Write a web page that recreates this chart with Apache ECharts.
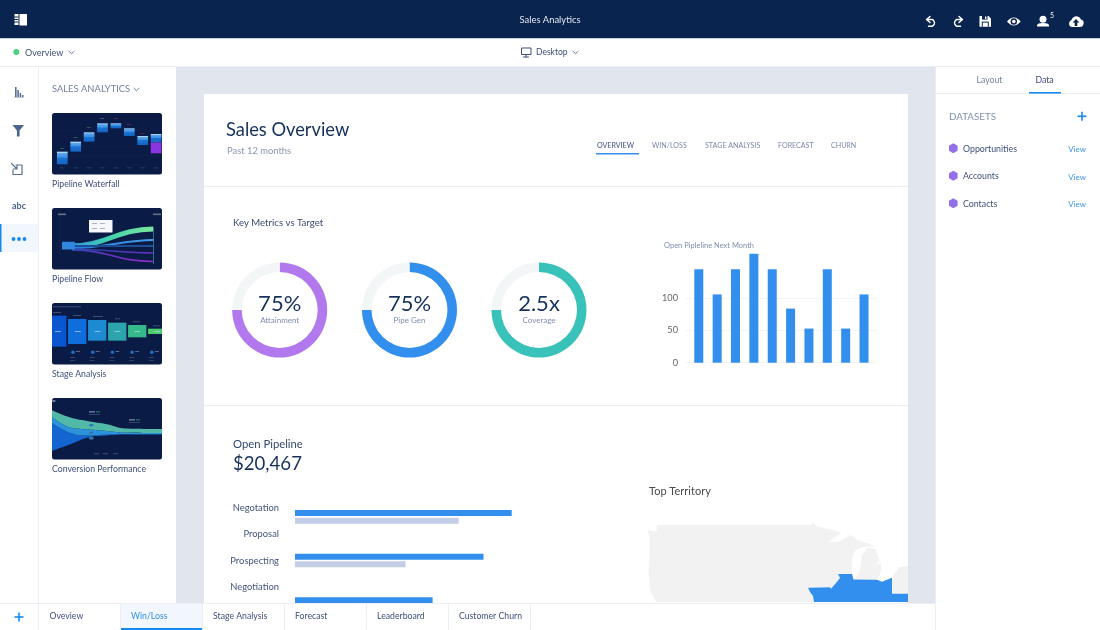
<!DOCTYPE html>
<html><head><meta charset="utf-8"><title>Sales Analytics</title>
<style>html,body{margin:0;padding:0;background:#fff}#c{width:1100px;height:630px}</style>
<script src="https://cdn.jsdelivr.net/npm/echarts@6/dist/echarts.min.js"></script>
</head><body><div id="c"></div>
<script>
// ---- chart data ----
const donutNames = ['Attainment','Pipe Gen','Coverage'];
const donutTexts = ['75%','75%','2.5x'];
const donutDone = [75,75,75];
const donutRest = [25,25,25];
const nextMonthValues = [145,106,145,169,145,84,53,145,53,106];
const nextMonthTicks = [0,50,100];
const stageLabels = ['Negotation','Proposal','Prospecting','Negotiation',''];
const stageBands = ['A','B','C'];
const openBlue = [100,87,63.5];
const openLight = [75.5,51,40];
// territory outlines (map data)
const landMain = [[647.3,530],[656.7,531],[656.7,525],[811.7,525],[812.3,522.4],[818,526.7],[830,529.3],[841.7,532.7],[828.3,541.7],[838,542],[850,535],[858,540],[875,546],[868,546.6],[863,547],[855,550.7],[852.3,556.7],[851.7,566.7],[852,574],[838,574],[840,578],[836,583],[831,588.7],[830,587.3],[808,587.7],[810,592],[813,596],[814,602],[656,602],[650,590],[648.5,570],[650,545],[650,538]];
const landMitten = [[853.5,579.6],[859,574],[860.7,565],[861.7,555],[868.3,547.5],[875,549.3],[880,560],[875,565],[881,563],[881.7,570],[878.3,578],[877,579.8]];
const landEast = [[892,577.7],[900,566.7],[908,566],[908,593.8],[892,593.8]];
const territory = [[808,587.7],[830,587.3],[831,588.7],[836,583],[840,578],[838,574],[852,574],[853.5,579.6],[877,579.8],[882,581.7],[892,577.7],[892,593.8],[908,593.8],[908,602],[814,602],[813,596],[810,592]];
// thumbnail data
const wfCats = ['a','b','c','d','e','f','g','h'];
const wfBase = [0,38,68,96,108,85,58,33];
const wfBlue = [38,30,28,27,15,23,27,25];
const wfPurple = [0,0,0,0,0,0,0,33];
const stageCats = ['s1','s2','s3','s4','s5','s6'];
const stageBase = [38,48,51,59,66,77];
const stageSize = [93,75,62,54,37,16];
const stageColors = ['#0a55d0','#0f6edb','#1d8bd2','#2ba4ab','#36b98a','#4ccc6a'];
const streamCats = ['1','2','3','4','5','6','7'];
const streamBase = [26,46,67,72,75,75,75.5];
const streamDark = [84,34,5,3,2,1,0.5];
const streamMid = [18,16,18,11,4,4,4];
const streamTeal = [20,30,25,20,12,12,12];
// ---- tabs / lists ----
const topTabs = ['OVERVIEW','WIN/LOSS','STAGE ANALYSIS','FORECAST','CHURN'];
const bottomTabs = ['Oveview','Win/Loss','Stage Analysis','Forecast','Leaderboard','Customer Churn'];
const datasets = ['Opportunities','Accounts','Contacts'];
const thumbTitles = ['Pipeline Waterfall','Pipeline Flow','Stage Analysis','Conversion Performance'];

const FF = 'Lato';
const NAVY='#16325c', SLATE='#3e4f78', MUTED='#7f8eae', BLUE='#338fed', LINK='#1589ee', LINE='#eceef4';
const g = [];
let pathCount=0;
const R=(x,y,w,h,fill,z=0,r=0)=>g.push({type:'rect',silent:true,z,shape:{x,y,width:w,height:h,r},style:{fill}});
const T=(x,y,text,size,fill,align='left',weight='normal',z=0)=>g.push({type:'text',silent:true,z,x,y:y+.7,style:{text,fontSize:size,fontFamily:FF,fontWeight:weight,fill,align,verticalAlign:'middle'}});
const P=(d,opt,z=0)=>{const name='iconPath'+(pathCount++);echarts.graphic.registerShape(name,echarts.graphic.extendPath(d,{}));g.push({type:name,silent:true,z,style:opt});};
const C=(cx,cy,r,fill,z=0)=>g.push({type:'circle',silent:true,z,shape:{cx,cy,r},style:{fill}});
const S=(d,color,w=1.4,z=0)=>P(d,{fill:'none',stroke:color,lineWidth:w,lineCap:'round',lineJoin:'round'},z);
const Poly=(pts,fill,z=0)=>g.push({type:'polygon',silent:true,z,shape:{points:pts},style:{fill}});

// page
R(176,67,759,536,'#e0e5ee');
R(204,94,704,509,'#ffffff');
R(204,186,704,1,LINE); R(204,405,704,1,LINE);
// top bar
R(0,0,1100,38,'#0a2450'); R(0,38,1100,1,'#c9cfdc');
R(14.5,14,4,11,'#fff'); R(19.5,14,7.5,11.5,'#fff');
[16.5,19,21.5].forEach(y=>R(14,y,4.5,1,'#0a2450'));
T(550,19,'Sales Analytics',9.4,'#e4e9f2','center');
const W='#ffffff';
S('M926.5 19.5 L930 16.5 M926.5 19.5 L930 22.5 M926.5 19.5 H932 A3.7 3.6 0 0 1 932 26.3 H928.5',W);
S('M962.5 19.5 L959 16.5 M962.5 19.5 L959 22.5 M962.5 19.5 H957 A3.7 3.6 0 0 0 957 26.3 H960.5',W);
P('M979.5 16 H988.5 L991 18.5 V26.7 H979.5 Z',{fill:W});
R(982,16,5.5,3.6,'#0a2450'); R(985,16.6,1.4,2.4,W); R(981.8,21.6,7,5.1,'#0a2450'); R(982.8,22.6,5,4.1,W);
P('M1007 21.5 Q1013.8 13.5 1020.7 21.5 Q1013.8 29.5 1007 21.5 Z',{fill:W});
C(1013.8,21.5,3.2,'#0a2450'); C(1013.8,21.5,1.8,W);
C(1043,19.2,3.5,W); P('M1037 26.5 V25.2 Q1037.5 23 1043 23 Q1048.5 23 1049 25.2 V26.5 Z',{fill:W});
T(1050,15.5,'5',7,W);
P('M1072.5 27 A3.6 3.6 0 0 1 1071.5 20 A5 5 0 0 1 1081 19.6 A3.8 3.8 0 0 1 1080 27 Z',{fill:W});
P('M1076 19 L1079.5 22.5 H1077.3 V26 H1074.7 V22.5 H1072.5 Z',{fill:'#0a2450'});
// sub bar
R(0,66,1100,1,LINE);
C(16.3,52,3,'#4bd27f'); T(25,52,'Overview',9,SLATE);
const chev=(x,y)=>S(`M${x-2.5} ${y-1.2} L${x} ${y+1.2} L${x+2.5} ${y-1.2}`,'#6d7c9c',1);
chev(71.5,52.5);
g.push({type:'rect',silent:true,shape:{x:521.5,y:48,width:9.5,height:6.5},style:{fill:'none',stroke:SLATE,lineWidth:1}});
S('M526 55 V57 M523.5 57 H528.5',SLATE,1);
T(536,52,'Desktop',8.5,SLATE); chev(575.5,52.5);
// left rail
R(38,67,1,536,LINE);
const IC='#5c7098';
R(15,87,1.6,10,IC); R(17.3,90,1.6,7,IC); R(19.6,93,1.6,4,IC); R(21.9,95,1.6,2,IC); R(14,97,10,.7,'#a9b5cc');
Poly([[12.5,125],[24,125],[19.6,130.6],[19.6,136.5],[16.9,136.5],[16.9,130.6]],'#4e648e');
S('M16 165 H22 V174.5 H13 V170 M11.5 163.5 L17 169 M17 165.5 V169 H13.5',IC,1.2);
T(19,205.5,'abc',9,'#4e648e','center','bold');
R(0,224,38,28,'#f1f7fc'); R(0,224,1.5,28,LINK);
[13.5,19,24.5].forEach(x=>C(x,239,1.9,LINK));
// thumbs panel
T(52,88.5,'SALES ANALYTICS',9.4,'#74839f'); chev(136.5,89.5);
[113,208,303,398].forEach((y,i)=>{ R(52,y,110,61.5,'#0a1b45',0,2.5); T(52,y+70.5,thumbTitles[i],8.7,SLATE); });
// thumb 1 tick marks
wfCats.forEach((c,i)=>{ R(60+i*13.4,167.5,4.5,.8,'#36456c',4); R(60+i*13.4,[151,140,130,121,121,127,136,144][i]-3,4,.8,i<3?'#2f6a58':(i<7&&i>3?'#6a2e48':'#5d6788'),4); });
[130,146,155].forEach(y=>R(54,y,106,.5,'#10224a',1));
// thumb 2: flow lines
const grad=(a,b,c)=>new echarts.graphic.LinearGradient(0,0,1,0,[{offset:0,color:a},{offset:.45,color:b},{offset:1,color:c}]);
const flow=(x1,y1,cx1,cx2,x2,y2,w,col)=>g.push({type:'bezierCurve',silent:true,z:3,shape:{x1,y1,cpx1:cx1,cpy1:y1,cpx2:cx2,cpy2:y2,x2,y2},style:{fill:'none',stroke:col,lineWidth:w}});
flow(70,246,105,118,153,229,5,grad('#2f8fe0','#3fd0ae','#7ee89a'));
flow(72,248,105,125,153,240,2,grad('#2a7fdc','#2e8be0','#4b9cec'));
flow(72,246,105,125,153,246,1.8,grad('#1a4f9c','#1c4a8e','#1f4f96'));
flow(72,249,100,125,153,253,1.4,grad('#254aa8','#3f3bb0','#6a2fc0'));
flow(72,250,110,115,153,261.5,1.7,grad('#2a4fb0','#6a2fc0','#9a2bc8'));
R(62,241.7,13,7.7,'#2f86dc',4,.5);
R(153,227,1,37,'#2e6f8a',4);
R(89,220,23.5,12.5,'#f6f7fa',4);
[[92,223],[100,223],[92,228],[100,228]].forEach(p=>R(p[0],p[1],5,.8,'#9aa3b6',5));
S('M60 215 H153',"#10254e",.5,2); S('M60 215 V255',"#14305c",.6,2);
R(58,213.5,8,1.6,'#66718f',4); R(153,213.5,8,1.6,'#66718f',4);
// thumb 3 details + edge masks
[0,1,2,3,4].forEach(i=>{ C(73+i*19.7,352.3,1.8,'#1872c6',4); R(76+i*19.7,351.2,4,.7,'#7c89a5',4); R(70+i*19.7,357,5,.6,'#55627f',4); R(70+i*19.7,360,5,.6,'#4a5775',4); });
[0,1,2,3,4,5].forEach(i=>R(55+i*19.8,331,6,.7,'#b9d2ea',4));
[[53,306.5,28],[53,312,8],[73,315,8],[93,316,10],[115,318.5,5],[133,321.5,7],[153,325.5,7]].forEach(p=>R(p[0],p[1],p[2],.7,'#55668c',4));
R(46,303,6,62,'#ffffff',5); R(162,303,7,62,'#ffffff',5);
// thumb 4 details
R(52,400.5,3.5,1,'#c9d2e2',5);
[[89,411.5],[129,419.5]].forEach(p=>{ R(p[0],p[1],6,.8,'#b9c6da',5); R(p[0]+7,p[1],4,.8,'#3ba378',5); R(p[0],p[1]+3,11,.5,'#5d6f93',5); });
[[91.3,425.3],[91.3,432.7],[91.3,438.3]].forEach(p=>g.push({type:'ellipse',silent:true,z:5,shape:{cx:p[0],cy:p[1],rx:2.3,ry:1.2},style:{fill:'#2873b3',stroke:'#6f9cc2',lineWidth:.3}}));
[94,103,113].forEach(x=>R(x,453.5,5,.7,'#55627f',5));
// right panel
R(935,67,165,536,'#fff'); R(935,67,1,536,LINE);
R(935,93,165,1,LINE);
T(989.5,79,'Layout',8.7,'#77859f','center'); T(1044.5,79,'Data',8.7,SLATE,'center');
R(1029,92,32,1.6,LINK);
T(949,116,'DATASETS',9.8,'#8090ae');
const plus=(x,y,col,z=0)=>{R(x-4.5,y-.8,9,1.6,col,z);R(x-.8,y-4.5,1.6,9,col,z);};
plus(1082,116.3,LINK);
[148.3,175.8,203.3].forEach((y,i)=>{
 g.push({type:'polygon',silent:true,shape:{points:[[953.3,y-5],[957.6,y-2.5],[957.6,y+2.5],[953.3,y+5],[949,y+2.5],[949,y-2.5]]},style:{fill:'#9370ea'}});
 T(963,y-.3,datasets[i],8.8,SLATE); T(1086,y+.7,'View',8,'#3b95ea','right');
});
// card heading
T(226,129.5,'Sales Overview',18.3,NAVY);
T(227,150,'Past 12 months',9.4,'#8a97b1');
[597,652,705,778,831].forEach((x,i)=>T(x,145,topTabs[i],7.1,i?'#7a89a8':SLATE));
R(596,153,43,1.6,BLUE);
T(233,222.5,'Key Metrics vs Target',9.6,'#3a4a6e');
T(664,245,'Open Pipleline Next Month',7.5,MUTED);
[279.7,409.5,539].forEach((cx,i)=>{
 T(cx,303.5,donutTexts[i],22,NAVY,'center','normal',5);
 T(cx,320,donutNames[i],8,MUTED,'center','normal',5);
});
T(233,444,'Open Pipeline',11.3,'#34476e');
T(233,463.5,'$20,467',18.6,NAVY);
T(649,491,'Top Territory',11,'#4a4a4a');
// footer on top
const ZF=20;
R(0,603,935,27,'#ffffff',ZF); R(0,603,935,1,LINE,ZF);
R(120,604,82,26,'#f1f7fc',ZF); R(120,628,82,2,LINK,ZF);
[38,120,202,284,366,448,530].forEach(x=>R(x,603,1,27,LINE,ZF));
plus(19,617,LINK,ZF);
[49.5,131,213,295,377,459].forEach((x,i)=>T(x,615.5,bottomTabs[i],8.7,i===1?BLUE:SLATE,'left','normal',ZF));
R(935,603,165,27,'#fff',ZF); R(935,603,1,27,LINE,ZF);

// map data
const toGeo=r=>r.map(p=>[p[0],-p[1]]);
echarts.registerMap('territories',{type:'FeatureCollection',features:[
 {type:'Feature',properties:{name:'Land'},geometry:{type:'MultiPolygon',coordinates:[[toGeo(landMain)],[toGeo(landMitten)],[toGeo(landEast)]]}},
 {type:'Feature',properties:{name:'Territory'},geometry:{type:'Polygon',coordinates:[toGeo(territory)]}}
]});

const donut=(i,cx,col)=>({type:'pie',silent:true,center:[cx,310],radius:[38,47.5],startAngle:90,label:{show:false},labelLine:{show:false},
 data:[{value:donutDone[i],name:donutNames[i],itemStyle:{color:col}},{value:donutRest[i],name:'rest',itemStyle:{color:'#f3f6f6'}}]});
const box=(l,t,w,h)=>({left:l,top:t,width:w,height:h,containLabel:false});
const blueGrad=new echarts.graphic.LinearGradient(0,0,0,1,[{offset:0,color:'#a9d3f7'},{offset:.1,color:'#a9d3f7'},{offset:.14,color:'#5aa6ec'},{offset:.45,color:'#3b8fe4'},{offset:.5,color:'#1a74d4'},{offset:1,color:'#1364c4'}]);

const option={animation:false,backgroundColor:'#ffffff',graphic:{elements:g},
 grid:[box(686,253.2,192,109.5),box(295,495,216.7,131),box(55.6,115,107.2,49.3),box(47.2,303,120,61.5),box(52,398,110,61.5)],
 xAxis:[
  {gridIndex:0,type:'value',min:0.303,max:10.761,show:false},
  {gridIndex:1,type:'value',min:0,max:100,show:false},
  {gridIndex:2,type:'category',data:wfCats,show:false},
  {gridIndex:3,type:'category',data:stageCats,show:false},
  {gridIndex:4,type:'category',data:streamCats,boundaryGap:false,show:false}
 ],
 yAxis:[
  {gridIndex:0,type:'value',min:0,max:170,axisLine:{show:false},axisTick:{show:false,customValues:nextMonthTicks},
   axisLabel:{customValues:nextMonthTicks,fontSize:9.2,color:'#666',fontFamily:FF,margin:8},splitLine:{lineStyle:{color:'#f4f4f4'}}},
  {gridIndex:1,type:'category',data:stageLabels,inverse:true,axisLine:{show:false},axisTick:{show:false},
   axisLabel:{fontSize:9.4,color:'#43557c',fontFamily:FF,margin:16,interval:0}},
  {gridIndex:1,type:'category',data:stageBands,inverse:true,show:false},
  {gridIndex:2,type:'value',min:0,max:148,show:false},
  {gridIndex:3,type:'value',min:0,max:184.5,inverse:true,show:false},
  {gridIndex:4,type:'value',min:0,max:185,show:false}
 ],
 series:[
  donut(0,279.7,'#b278ee'),donut(1,409.5,BLUE),donut(2,539,'#38c2b9'),
  {type:'bar',silent:true,xAxisIndex:0,yAxisIndex:0,barWidth:9,data:nextMonthValues.map((v,i)=>[i+1,v]),itemStyle:{color:BLUE}},
  {type:'bar',silent:true,name:'Open',xAxisIndex:1,yAxisIndex:2,barWidth:6,barGap:'27%',data:openBlue,itemStyle:{color:BLUE}},
  {type:'bar',silent:true,name:'Prior',xAxisIndex:1,yAxisIndex:2,barWidth:6,barGap:'27%',data:openLight,itemStyle:{color:'#c4cde6'}},
  {type:'map',map:'territories',silent:true,aspectScale:1,layoutCenter:[777.65,562.2],layoutSize:260.7,roam:false,label:{show:false},
   itemStyle:{borderWidth:0,areaColor:'#f2f2f2'},
   data:[{name:'Land',value:0,itemStyle:{areaColor:'#f2f2f2'}},{name:'Territory',value:1,itemStyle:{areaColor:BLUE}}]},
  {type:'bar',silent:true,stack:'w',xAxisIndex:2,yAxisIndex:3,barWidth:10.7,data:wfBase,itemStyle:{color:'transparent'}},
  {type:'bar',silent:true,stack:'w',xAxisIndex:2,yAxisIndex:3,barWidth:10.7,data:wfPurple,itemStyle:{color:'#8a35e0'}},
  {type:'bar',silent:true,stack:'w',xAxisIndex:2,yAxisIndex:3,barWidth:10.7,data:wfBlue,itemStyle:{color:blueGrad}},
  {type:'bar',silent:true,stack:'f',xAxisIndex:3,yAxisIndex:4,barWidth:18.3,data:stageBase,itemStyle:{color:'transparent'}},
  {type:'bar',silent:true,stack:'f',xAxisIndex:3,yAxisIndex:4,barWidth:18.3,data:stageSize.map((v,i)=>({value:v,itemStyle:{color:stageColors[i]}}))},
  {type:'line',silent:true,stack:'s',smooth:.4,symbol:'none',xAxisIndex:4,yAxisIndex:5,data:streamBase,lineStyle:{width:0},areaStyle:{color:'#0a1b45',opacity:0}},
  {type:'line',silent:true,stack:'s',smooth:.4,symbol:'none',xAxisIndex:4,yAxisIndex:5,data:streamDark,lineStyle:{width:0},areaStyle:{color:'#1565d0',opacity:1}},
  {type:'line',silent:true,stack:'s',smooth:.4,symbol:'none',xAxisIndex:4,yAxisIndex:5,data:streamMid,lineStyle:{width:0},areaStyle:{color:'#2b92dc',opacity:1}},
  {type:'line',silent:true,stack:'s',smooth:.4,symbol:'none',xAxisIndex:4,yAxisIndex:5,data:streamTeal,lineStyle:{width:0},areaStyle:{color:'#52b8a8',opacity:1}}
 ]};
const chart=echarts.init(document.getElementById('c'),null,{renderer:'canvas',width:1100,height:630});
chart.setOption(option);
</script></body></html>
